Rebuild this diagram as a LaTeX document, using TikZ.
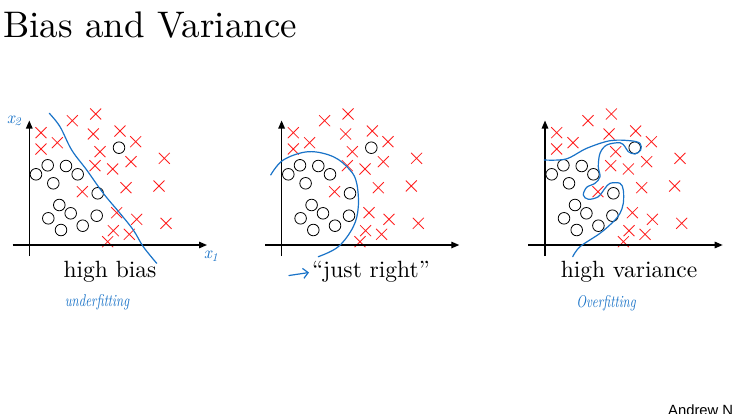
\documentclass[tikz,border=0pt]{standalone}
\usepackage{fontspec}
\usetikzlibrary{arrows.meta}
\newfontfamily\ngfont{Liberation Sans}
\newfontfamily\lmten{lmroman10-regular}[Extension=.otf,ItalicFont=lmroman10-italic,Ligatures=TeX]
\definecolor{pen}{RGB}{25,115,200}
\definecolor{xred}{RGB}{255,30,30}
\tikzset{
  axis/.style={line width=1.3pt,-{Triangle[length=8pt,width=6.5pt]}},
  crossmark/.style={xred,line width=0.8pt},
  ring/.style={black,line width=0.8pt},
  penline/.style={pen,line width=1.2pt,line cap=round,line join=round},
  lbl/.style={anchor=base,inner sep=0pt,font=\lmten\fontsize{23.5}{26}\selectfont},
  hand/.style={pen,inner sep=0pt,font=\lmten\itshape\fontsize{17}{18}\selectfont}
}
\newcommand{\panel}{%
  \foreach \px/\py in {95.7/114,72.3/120.7,41/132.7,93.3/134,120/131,57.3/142.7,41/149,135.7/141.7,100/151.7,164.3/158.3,131/161.7,95/165.7,112.7/169,82.3/191.7,126/187.7,159/186,116.7/212.7,136.7/219.3,166/223.3,113.3/230.7,129.3/234.3,107.7/241.7}
    {\draw[crossmark] (\px,\py) +(-5.5,-5.5) -- +(5.5,5.5) +(-5.5,5.5) -- +(5.5,-5.5);}
  \foreach \px/\py in {119/147.7,47.7/165.3,66/166,36/174.3,77.7/174.3,53.3/183.3,97.7/193.3,59.3/205,70.7/213.3,48.3/218.3,96.7/215.7,82.7/225.7,61/230}
    {\draw[ring] (\px,\py) circle[radius=5.8pt];}
  \coordinate (xs) at (12.7,245); \coordinate (xe) at (207,245);
  \coordinate (ys) at (29.3,256); \coordinate (ye) at (29.3,120.5);
  \draw[axis] (xs) -- (xe);
  \draw[axis] (ys) -- (ye);
}
\begin{document}
\begin{tikzpicture}[x=1pt,y=-1pt]
\clip (0,0) rectangle (733,413);
\fill[white] (0,0) rectangle (733,413);
\node[anchor=base west,inner sep=0pt,font=\lmten\fontsize{37}{42}\selectfont] (title) at (3,37.7) {Bias and Variance};
\begin{scope}\panel\end{scope}
\begin{scope}[xshift=252.3pt]\panel\end{scope}
\begin{scope}[xshift=515.7pt]\panel\end{scope}
% decision boundaries
\draw[penline] plot[smooth,tension=0.6] coordinates {(49.3,113.3) (60,126.7) (71.7,150) (86.7,170) (103.3,193.3) (120,213.3) (133.3,230) (143.3,246.7) (156.7,263.3)};
\draw[penline] plot[smooth,tension=0.6] coordinates {(270.7,175) (283.3,160) (308.3,151.7) (333.3,156.7) (350,170) (356.7,183.3) (358.3,206.7) (353.3,226.7) (338.3,246.7) (318.3,256.7)};
\draw[penline] plot[smooth,tension=0.55] coordinates {(544.3,160) (566,159) (586.7,148.3) (610,140.7) (630,140.7) (640,143.3) (640.7,150) (635,154) (628.3,151.7) (625,146.7) (620,142.7) (606.7,145) (600,153.3) (598.3,166.7) (600,176.7) (595,183.3) (586.7,187.3) (583.3,195) (588.3,199.3) (598.3,196.7) (605,188.3) (610,183.3) (620,183.3) (623.3,190) (623.3,203.3) (620,213.3) (613.3,221.7) (600,233.3) (580,246.7) (572.7,256.7)};
% axis labels
\node[hand] (x2) at (14,121) {x\textsubscript{2}};
\node[hand] (x1) at (211,256) {x\textsubscript{1}};
% panel labels
\node[lbl] (hb) at (110,277) {high bias};
\node[lbl] (jr) at (371,277) {“just right”};
\node[lbl] (hv) at (629,277) {high variance};
\coordinate (ar1) at (289,275.5);
\coordinate (ar2) at (309,272.5);
\draw[penline,-{Straight Barb[length=5pt,width=10pt]}] (ar1) -- (ar2);
\node[hand] (uf) at (97,302) {\scalebox{0.75}[1]{underfitting}};
\node[hand] (of) at (606,303) {\scalebox{0.75}[1]{Overfitting}};
\node[anchor=base west,inner sep=0pt,font=\ngfont\fontsize{14.8}{16}\selectfont] (ng) at (668,415) {Andrew Ng};
\end{tikzpicture}
\end{document}
